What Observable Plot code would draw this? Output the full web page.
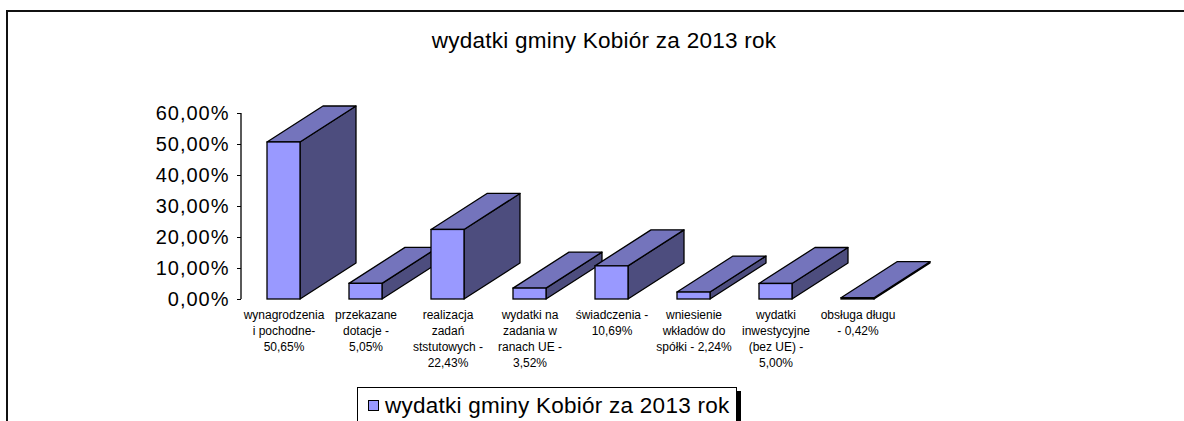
<!DOCTYPE html>
<html>
<head>
<meta charset="utf-8">
<script src="https://cdn.jsdelivr.net/npm/d3@7"></script>
<script src="https://cdn.jsdelivr.net/npm/@observablehq/plot@0.6"></script>
<style>
  body { margin: 0; background: #fff; font-family: "Liberation Sans", Arial, sans-serif; }
  #wrap { position: relative; width: 1184px; height: 421px; overflow: hidden; background: #fff; }
  #border { position: absolute; left: 6px; top: 10px; width: 1400px; height: 600px;
            border-top: 2px solid #111; border-left: 2px solid #111; }
  #title { position: absolute; left: 0; width: 1208px; top: 30px; text-align: center;
           font-size: 22.5px; line-height: 22px; letter-spacing: 0.25px; color: #000; }
  #chart { position: absolute; left: 0; top: 0; }
  #legend { position: absolute; left: 357px; top: 387px; width: 378px; height: 50px;
            border: 1px solid #000; box-shadow: 4px 4px 0 #000; background: #fff; }
  #legend .sw { position: absolute; left: 10px; top: 12px; width: 9px; height: 9px;
                background: #9999FF; border: 1px solid #000; }
  #legend .tx { position: absolute; left: 27px; top: 7px; font-size: 22.5px; line-height: 22px;
                letter-spacing: 0.25px; white-space: nowrap; }
  #chart g[aria-label="y-axis tick label"] { letter-spacing: 1px; }
</style>
</head>
<body>
<div id="wrap">
  <div id="border"></div>
  <div id="chart"></div>
  <div id="title"></div>
  <div id="legend"><div class="sw"></div><div class="tx"></div></div>
</div>
<script>
const chartTitle = "wydatki gminy Kobiór za 2013 rok";
const seriesName = "wydatki gminy Kobiór za 2013 rok";
const categories = [
  "wynagrodzenia\ni pochodne-\n50,65%",
  "przekazane\ndotacje -\n5,05%",
  "realizacja\nzadań\nststutowych -\n22,43%",
  "wydatki na\nzadania w\nranach UE -\n3,52%",
  "świadczenia -\n10,69%",
  "wniesienie\nwkładów do\nspółki - 2,24%",
  "wydatki\ninwestycyjne\n(bez UE) -\n5,00%",
  "obsługa długu\n- 0,42%"
];
const shares = [50.65, 5.05, 22.43, 3.52, 10.69, 2.24, 5.00, 0.42];
const yTicks = [0, 10, 20, 30, 40, 50, 60];

const table = categories.map((c, i) => ({c, v: shares[i]}));

const FRONT = "#9999FF", TOP = "#7474BC", SIDE = "#4D4D7E";
const DEPTH_X = 56, DEPTH_Y = 36;

function depthFaces(index, scales, vals, dims) {
  const x = scales.x, y = scales.y;
  const bw = x.bandwidth();
  const g = d3.create("svg:g").attr("stroke", "#000").attr("stroke-width", 1.3).attr("stroke-linejoin", "round");
  // value axis line
  g.append("line")
    .attr("x1", dims.marginLeft).attr("x2", dims.marginLeft)
    .attr("y1", y(yTicks[yTicks.length - 1])).attr("y2", y(0));
  table.forEach(d => {
    const x0 = x(d.c), x1 = x0 + bw, yt = y(d.v), yb = y(0);
    const top = [[x0, yt], [x1, yt], [x1 + DEPTH_X, yt - DEPTH_Y], [x0 + DEPTH_X, yt - DEPTH_Y]];
    const side = [[x1, yt], [x1 + DEPTH_X, yt - DEPTH_Y], [x1 + DEPTH_X, yb - DEPTH_Y], [x1, yb]];
    g.append("polygon").attr("points", side.map(p => p.join(",")).join(" ")).attr("fill", SIDE);
    g.append("polygon").attr("points", top.map(p => p.join(",")).join(" ")).attr("fill", TOP);
  });
  return g.node();
}

const plot = Plot.plot({
  width: 1184,
  height: 421,
  marginLeft: 241,
  marginRight: 284,
  marginTop: 113,
  marginBottom: 122,
  style: {background: "transparent", fontFamily: "'Liberation Sans', Arial, sans-serif", color: "#000", overflow: "visible"},
  x: {domain: categories, paddingInner: 0.6, paddingOuter: 0.3, label: null},
  y: {domain: [0, 60], label: null},
  marks: [
    depthFaces,
    Plot.barY(table, {x: "c", y: "v", fill: FRONT, stroke: "#000", strokeWidth: 1.3}),
    Plot.axisY({ticks: yTicks, tickFormat: d => d.toFixed(2).replace(".", ",") + "%",
                tickSize: 4, tickPadding: 8, fontSize: 20, stroke: "#000", fill: "#000"}),
    Plot.axisX({tickSize: 0, tickPadding: 8, fontSize: 12, lineHeight: 1.333, fill: "#000",
                textOverflow: null})
  ]
});
document.getElementById("chart").appendChild(plot);
document.getElementById("title").textContent = chartTitle;
document.querySelector("#legend .tx").textContent = seriesName;
</script>
</body>
</html>
